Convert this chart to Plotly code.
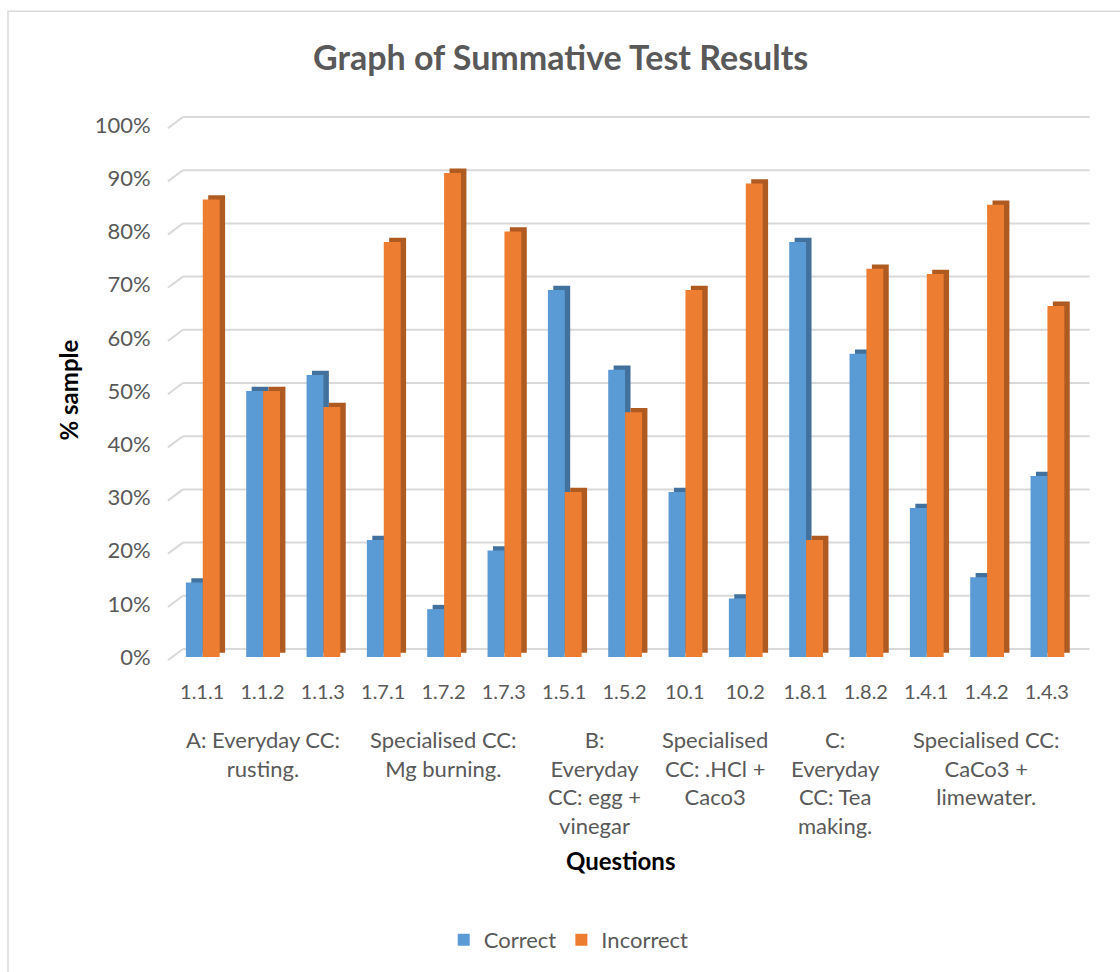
import plotly.graph_objects as go

questions = ["1.1.1", "1.1.2", "1.1.3", "1.7.1", "1.7.2", "1.7.3", "1.5.1", "1.5.2",
             "10.1", "10.2", "1.8.1", "1.8.2", "1.4.1", "1.4.2", "1.4.3"]
correct = [14, 50, 53, 22, 9, 20, 69, 54, 31, 11, 78, 57, 28, 15, 34]
incorrect = [86, 50, 47, 78, 91, 80, 31, 46, 69, 89, 22, 73, 72, 85, 66]
group_labels = ["A: Everyday CC:<br>rusting.", "Specialised CC:<br>Mg burning.",
                "B:<br>Everyday<br>CC: egg +<br>vinegar", "Specialised<br>CC: .HCl +<br>Caco3",
                "C:<br>Everyday<br>CC: Tea<br>making.", "Specialised CC:<br>CaCo3 +<br>limewater."]
group_sizes = [3, 3, 2, 2, 2, 3]
y_ticks = list(range(0, 101, 10))

FONT = "Lato"
GREY = "#595959"
BLUE, BLUE_D = "#5B9BD5", "#41719C"
ORANGE, ORANGE_D = "#ED7D31", "#AE5A21"

W, H = 1120, 972
L, R = 172.1, 1077.5
T, B = 125, 658

def px2x(px):
    return (px - L) / (R - L)

def px2y(py):
    return (B - py) / (B - T)

xs = list(range(len(questions)))
bw = 0.28
dx = 0.09
dy = 0.8

fig = go.Figure()
for vals, col, dcol, name, off in [(correct, BLUE, BLUE_D, "Correct", -0.27),
                                   (incorrect, ORANGE, ORANGE_D, "Incorrect", 0.01)]:
    fig.add_trace(go.Bar(x=xs, y=vals, base=[dy] * len(vals), width=bw, offset=off + dx,
                         marker=dict(color=dcol, line=dict(width=0)),
                         showlegend=False, hoverinfo="skip"))
    fig.add_trace(go.Bar(x=xs, y=vals, width=bw, offset=off, name=name,
                         marker=dict(color=col, line=dict(width=0))))

shapes = []
for v in y_ticks:
    shapes.append(dict(type="line", xref="paper", yref="paper", x0=px2x(183), x1=px2x(1090),
                       y0=(v + 1.5) / 100, y1=(v + 1.5) / 100,
                       line=dict(color="#D9D9D9", width=2), layer="below"))
    shapes.append(dict(type="line", xref="paper", yref="paper", x0=px2x(168), x1=px2x(183),
                       y0=(v - 0.6) / 100, y1=(v + 1.5) / 100,
                       line=dict(color="#D9D9D9", width=2), layer="below"))
shapes.append(dict(type="rect", xref="paper", yref="paper", x0=px2x(8), x1=px2x(1130),
                   y0=px2y(990), y1=px2y(11), line=dict(color="#D9D9D9", width=1.5), layer="below"))

annotations = []
start = 0
for lab, n in zip(group_labels, group_sizes):
    center = start + (n - 1) / 2
    annotations.append(dict(x=center, xref="x", y=px2y(725), yref="paper", text=lab,
                            showarrow=False, yanchor="top", xanchor="center", align="center",
                            font=dict(family=FONT, size=22, color=GREY)))
    start += n
annotations.append(dict(x=px2x(621), y=px2y(862), xref="paper", yref="paper", text="<b>Questions</b>",
                        showarrow=False, xanchor="center", yanchor="middle",
                        font=dict(family=FONT, size=24, color="black")))
annotations.append(dict(x=px2x(69), y=px2y(390), xref="paper", yref="paper", text="<b>% sample</b>",
                        textangle=-90, showarrow=False, xanchor="center", yanchor="middle",
                        font=dict(family=FONT, size=24, color="black")))
annotations.append(dict(x=px2x(561), y=px2y(56), xref="paper", yref="paper",
                        text="<b>Graph of Summative Test Results</b>",
                        showarrow=False, xanchor="center", yanchor="middle",
                        font=dict(family=FONT, size=34, color=GREY)))

fig.update_layout(
    width=W, height=H,
    margin=dict(l=L, r=W - R, t=T, b=H - B, pad=0),
    paper_bgcolor="white", plot_bgcolor="white",
    barmode="overlay",
    showlegend=True,
    legend=dict(orientation="h", x=px2x(569), xanchor="center", y=px2y(940), yanchor="middle",
                font=dict(family=FONT, size=22, color=GREY), itemwidth=30),
    xaxis=dict(tickmode="array", tickvals=xs, ticktext=questions, range=[-0.5, len(questions) - 0.5],
               showgrid=False, zeroline=False, showline=False, ticks="outside", ticklen=17,
               tickcolor="rgba(0,0,0,0)", tickfont=dict(family=FONT, size=20, color=GREY)),
    yaxis=dict(range=[0, 100], tickvals=y_ticks, ticktext=[f"{v}%" for v in y_ticks],
               showgrid=False, zeroline=False, showline=False, ticks="outside", ticklen=16,
               tickcolor="rgba(0,0,0,0)", tickfont=dict(family=FONT, size=22, color=GREY)),
    shapes=shapes,
    annotations=annotations,
)

fig.write_html("out.html", config={"displayModeBar": False},
               post_script="document.body.style.margin='0';document.body.style.padding='0';")
